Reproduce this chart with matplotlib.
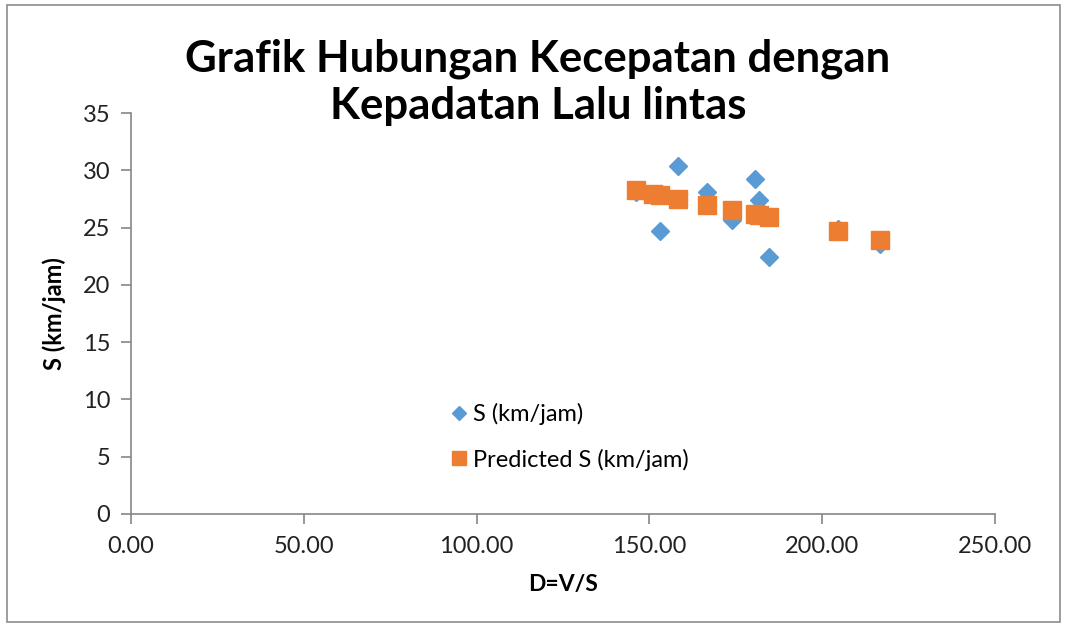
import matplotlib.pyplot as plt
from matplotlib.patches import Rectangle

# Data
d_values = [146.1, 151.1, 153.1, 158.4, 166.8, 174.0, 180.6, 181.8, 184.5, 204.5, 216.7]
s_values = [28.1, 27.9, 24.7, 30.4, 28.1, 25.7, 29.2, 27.4, 22.4, 24.9, 23.6]
s_predicted = [28.28, 27.93, 27.84, 27.49, 26.96, 26.53, 26.18, 26.10, 25.89, 24.70, 23.91]

x_ticks = [0, 50, 100, 150, 200, 250]
y_ticks = [0, 5, 10, 15, 20, 25, 30, 35]

plt.rcParams['font.family'] = ['Lato', 'DejaVu Sans']

fig = plt.figure(figsize=(10.67, 6.29), dpi=100)
ax = fig.add_axes([131 / 1067, 1 - 514 / 629, 864 / 1067, 401 / 629])

# outer chart border
fig.patches.append(Rectangle((7 / 1067, 1 - 622 / 629), 1053 / 1067, 617 / 629,
                             transform=fig.transFigure, fill=False,
                             edgecolor='#8c8c8c', linewidth=1.2))

ax.plot(d_values, s_values, linestyle='none', marker='D', markersize=9.5,
        color='#5B9BD5', label='S (km/jam)')
ax.plot(d_values, s_predicted, linestyle='none', marker='s', markersize=13.5,
        color='#ED7D31', label='Predicted S (km/jam)')

ax.set_xlim(0, 250)
ax.set_ylim(0, 35)
ax.set_xticks(x_ticks)
ax.set_xticklabels(['%.2f' % v for v in x_ticks])
ax.set_yticks(y_ticks)

for side in ['top', 'right']:
    ax.spines[side].set_visible(False)
for side in ['left', 'bottom']:
    ax.spines[side].set_color('#868686')
    ax.spines[side].set_linewidth(1.2)

ax.tick_params(axis='both', direction='out', length=7, width=1.2, color='#868686',
               labelsize=17, labelcolor='#222222')
ax.tick_params(axis='x', pad=9)
ax.tick_params(axis='y', pad=8)

ax.set_xlabel('D=V/S', fontsize=16.5, fontweight='bold', labelpad=12)
ax.set_ylabel('S (km/jam)', fontsize=17, fontweight='bold', labelpad=12)

fig.text(538 / 1067, 1 - 82 / 629, 'Grafik Hubungan Kecepatan dengan\nKepadatan Lalu lintas',
         ha='center', va='center', fontsize=31.5, fontweight='bold', linespacing=1.2)

ax.legend(loc='upper left', bbox_to_anchor=(0.34, 0.33), frameon=False,
          fontsize=17, labelspacing=1.0, handletextpad=0.05, handlelength=1.1,
          markerscale=0.75)

fig.savefig('out.png', dpi=100)
